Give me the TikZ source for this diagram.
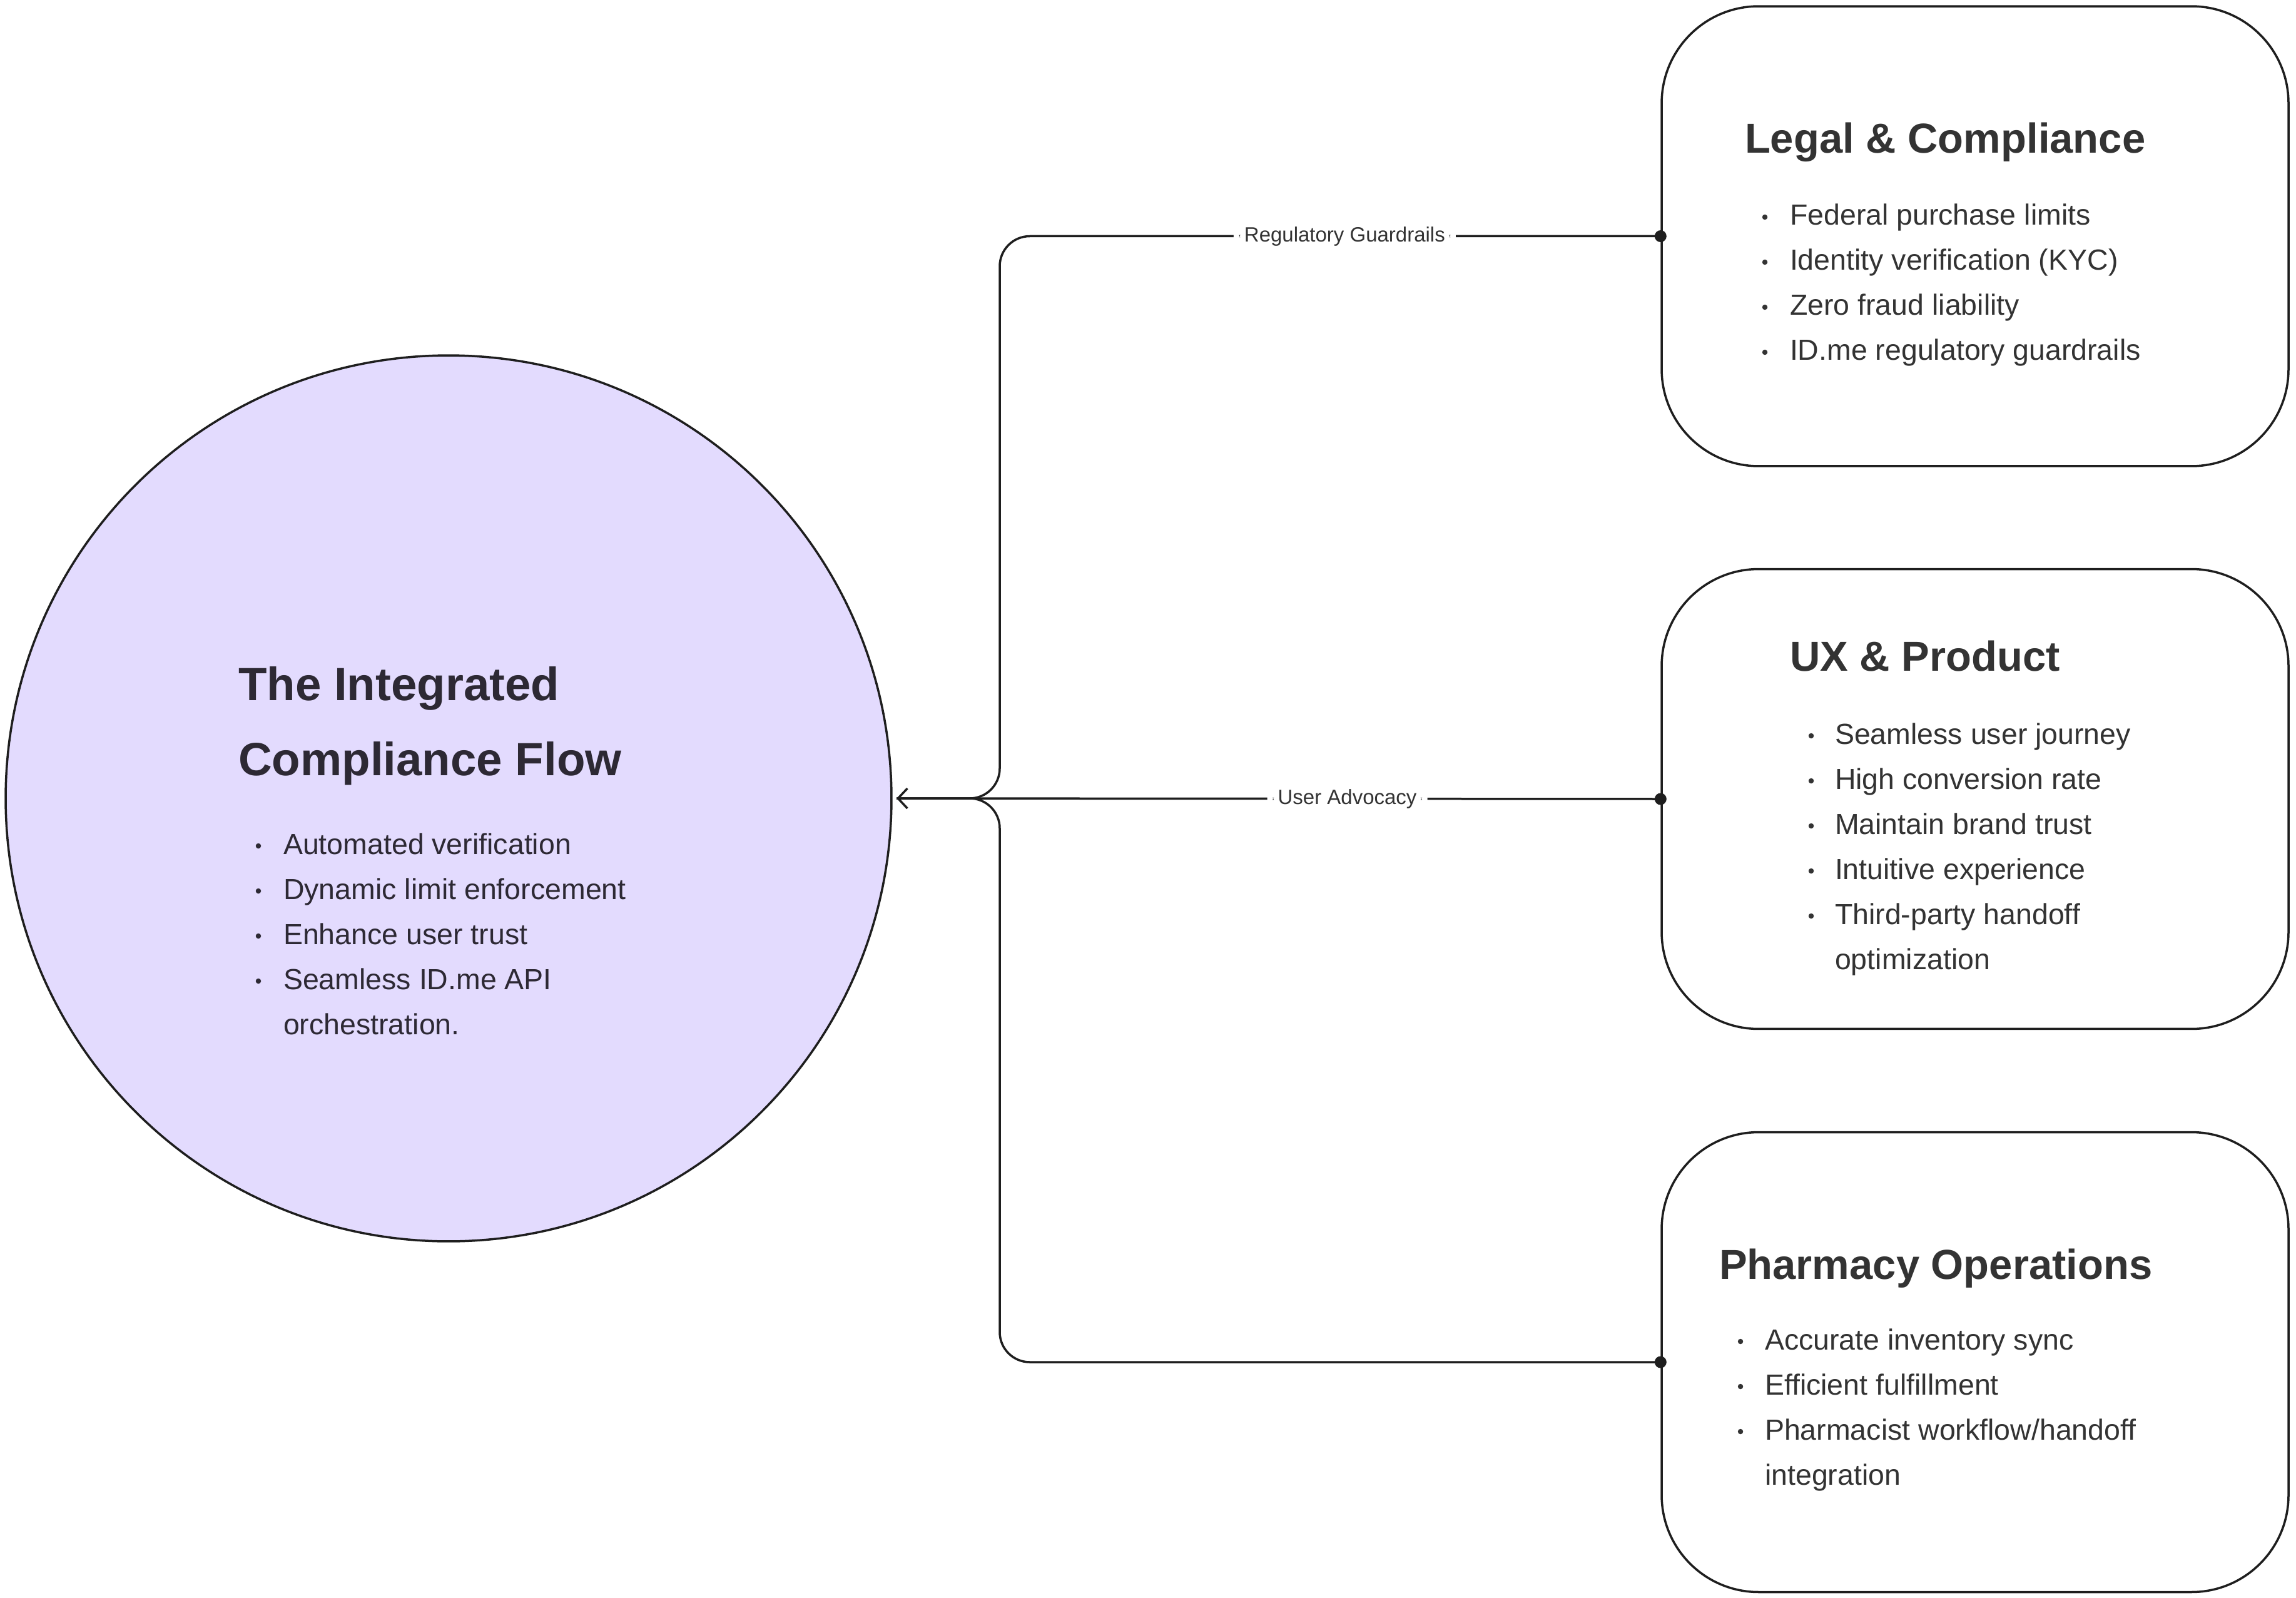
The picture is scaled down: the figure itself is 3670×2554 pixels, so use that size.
\documentclass[tikz,border=0pt]{standalone}
\usepackage{fontspec}
\setmainfont{Liberation Sans}
\usetikzlibrary{arrows.meta}
\definecolor{hubfill}{HTML}{E3DBFE}
\definecolor{ink}{HTML}{1E1E1E}
\definecolor{txt}{HTML}{333333}
\definecolor{hubtxt}{HTML}{2D2934}
\begin{document}
\begin{tikzpicture}[x=0.1pt,y=-0.1pt,
  conn/.style={draw=ink, line width=0.35pt, rounded corners=4.8pt},
  panel/.style={draw=ink, line width=0.35pt, rounded corners=15.5pt, minimum width=100.2pt, minimum height=73.5pt, inner sep=0},
  hubstyle/.style={circle, draw=ink, fill=hubfill, line width=0.35pt, minimum size=141.6pt, inner sep=0},
  dotnode/.style={circle, fill=ink, inner sep=0, minimum size=1.9pt},
  bul/.style={circle, fill=#1, inner sep=0, minimum size=0.85pt},
  item/.style={anchor=base west, inner sep=0, text=#1, font=\fontsize{4.65pt}{5pt}\selectfont},
  btitle/.style={anchor=base west, inner sep=0, text=txt, font=\fontsize{6.7pt}{7pt}\selectfont\bfseries},
  htitle/.style={anchor=base west, inner sep=0, text=hubtxt, font=\fontsize{7.45pt}{8pt}\selectfont\bfseries},
  lbl/.style={fill=white, inner xsep=1.7pt, inner ysep=0.4pt, text=txt, font=\fontsize{3.3pt}{4pt}\selectfont}
]
\fill[white] (0,0) rectangle (3670,2554);
\useasboundingbox (0,0) rectangle (3670,2554);

% hub
\node[hubstyle] (hub) at (717,1276) {};
\node[htitle] (ht1) at (379,1119) {The Integrated};
\node[htitle] (ht2) at (379,1239) {Compliance Flow};
\foreach \t [count=\i] in {Automated verification,Dynamic limit enforcement,Enhance user trust,Seamless ID.me API}{
  \node[bul=hubtxt] (hb\i) at (413,{1365+72*(\i-1)-13}) {};
  \node[item=hubtxt] (hi\i) at (451,{1365+72*(\i-1)}) {\t};
}
\node[item=hubtxt] (hi5) at (451,1653) {orchestration.};

% panels
\node[panel] (legal) at (3157,377.5) {};
\node[panel] (ux) at (3157,1277) {};
\node[panel] (pharm) at (3157,2177) {};

\node[btitle] (lt) at (2787,245) {Legal \& Compliance};
\foreach \t [count=\i] in {Federal purchase limits,Identity verification (KYC),Zero fraud liability,ID.me regulatory guardrails}{
  \node[bul=txt] (lb\i) at (2821,{360+72*(\i-1)-13}) {};
  \node[item=txt] (li\i) at (2859,{360+72*(\i-1)}) {\t};
}

\node[btitle] (ut) at (2859,1072) {UX \& Product};
\foreach \t [count=\i] in {Seamless user journey,High conversion rate,Maintain brand trust,Intuitive experience,Third-party handoff}{
  \node[bul=txt] (ub\i) at (2895,{1189+72*(\i-1)-13}) {};
  \node[item=txt] (ui\i) at (2931,{1189+72*(\i-1)}) {\t};
}
\node[item=txt] (ui6) at (2931,1549) {optimization};

\node[btitle] (pt) at (2746,2044) {Pharmacy Operations};
\foreach \t [count=\i] in {Accurate inventory sync,Efficient fulfillment,Pharmacist workflow/handoff}{
  \node[bul=txt] (pb\i) at (2782,{2157+72*(\i-1)-13}) {};
  \node[item=txt] (pi\i) at (2819,{2157+72*(\i-1)}) {\t};
}
\node[item=txt] (pi4) at (2819,2373) {integration};

% connectors
\coordinate (tip) at (1433,1276);
\draw[conn] (legal.west) -- node[lbl, pos=0.478] (lreg) {Regulatory Guardrails} (1598,377.5) -- (1598,1276) -- (tip);
\draw[conn] (pharm.west) -- (1598,2177) -- (1598,1276) -- (tip);
\draw[conn, -{Straight Barb[length=1.5pt,width=3.2pt,line width=0.35pt]}] (ux.west) -- node[lbl, pos=0.41] (luser) {User Advocacy} (tip);

\node[dotnode] (d1) at (legal.west) {};
\node[dotnode] (d2) at (ux.west) {};
\node[dotnode] (d3) at (pharm.west) {};
\end{tikzpicture}
\end{document}
